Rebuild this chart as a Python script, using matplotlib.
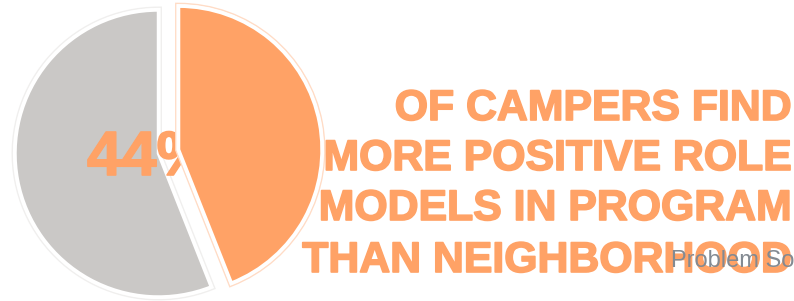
import matplotlib.pyplot as plt
import matplotlib.patheffects as pe

plt.rcParams['font.family'] = ['Liberation Sans', 'DejaVu Sans']

shares = [44, 56]
slice_colors = ['#FFA266', '#CAC8C6']
outline_colors = ['#FFDCC6', '#F0EFEE']
big_label = "44%"
headline = ["OF CAMPERS FIND", "MORE POSITIVE ROLE", "MODELS IN PROGRAM", "THAN NEIGHBORHOOD"]
source = "Problem So"

W, H = 794, 301
fig = plt.figure(figsize=(W / 100, H / 100), dpi=100)
ax = fig.add_axes([0, 0, 1, 1])

# explode is in data units here (pixels), not a fraction of the radius
wedges, _ = ax.pie(shares, colors=slice_colors, startangle=90, counterclock=False,
                   center=(158.5, H - 153.5), radius=143.5, explode=[20.4, 0],
                   wedgeprops=dict(edgecolor='white', linewidth=2.5), frame=True)
ax.set_xlim(0, W)
ax.set_ylim(0, H)
ax.set_aspect('equal')
ax.axis('off')

for w, oc in zip(wedges, outline_colors):
    w.set_path_effects([pe.Stroke(linewidth=5, foreground=oc),
                        pe.Stroke(linewidth=3, foreground='white'),
                        pe.Normal()])
wedges[0].set_zorder(3)
wedges[1].set_zorder(1)

orange = slice_colors[0]
heavy = [pe.withStroke(linewidth=1.2, foreground=orange)]

ax.text(87, H - 175, big_label, fontsize=45, fontweight='bold', color=orange,
        ha='left', va='baseline', zorder=2, path_effects=heavy)

baselines = [120, 170, 220, 272]
for line, yb in zip(headline, baselines):
    ax.text(791, H - yb, line, fontsize=30.8, fontweight='bold', color=orange,
            ha='right', va='baseline', zorder=4, path_effects=heavy)

ax.text(671, H - 267, source, fontsize=17, color='#838A92',
        ha='left', va='baseline', zorder=5)

fig.savefig('out.png', dpi=100)
